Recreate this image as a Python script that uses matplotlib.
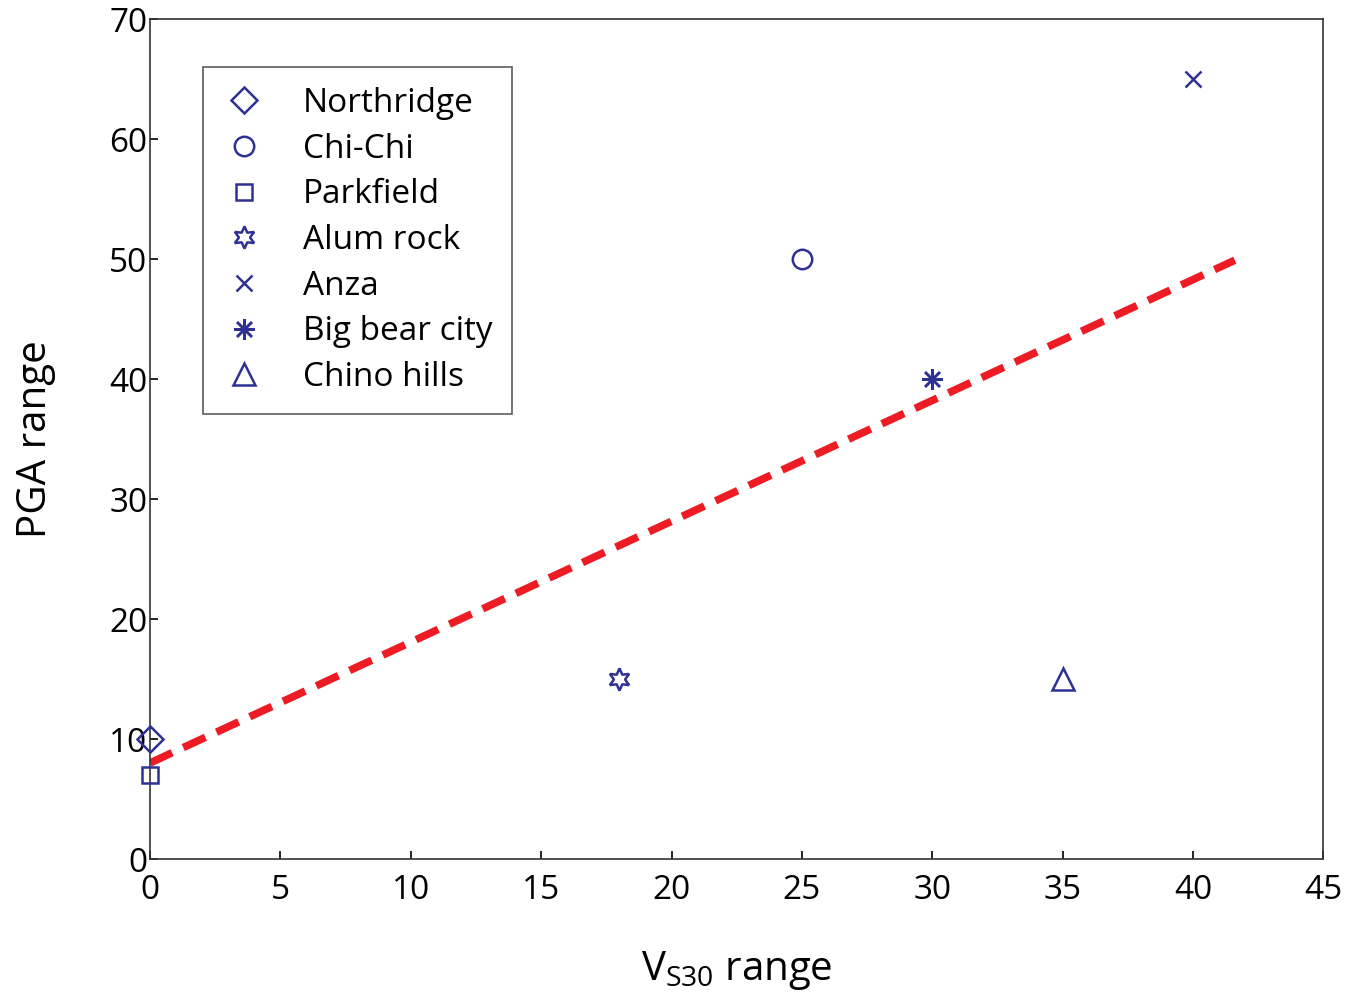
import matplotlib.pyplot as plt
from matplotlib.lines import Line2D

# data
events = ["Northridge", "Chi-Chi", "Parkfield", "Alum rock", "Anza", "Big bear city", "Chino hills"]
vs30 = [0, 25, 0, 18, 40, 30, 35]
pga = [10, 50, 7, 15, 65, 40, 15]
markers = ["D", "o", "s", (6, 1, 0), "x", (8, 2, 0), "^"]
msizes = [13, 14, 11, 16, 11, 15, 16]

# fitted trend line (endpoints)
fit_x = [0, 41.6]
fit_y = [8, 49.9]

plt.rcParams["font.family"] = ["Open Sans", "DejaVu Sans"]
blue = "#2E3192"

fig = plt.figure(figsize=(13.45, 10), dpi=100)
ax = fig.add_axes([0.1115, 0.141, 0.8725, 0.840])

for name, x, y, m, ms in zip(events, vs30, pga, markers, msizes):
    ax.plot(x, y, linestyle="none", marker=m, markersize=ms, mfc="none",
            mec=blue, mew=1.8, label=name, clip_on=False, zorder=3)

ax.plot(fit_x, fit_y, color="#ED1C24", linewidth=5.5, dashes=(3.2, 1.6), zorder=2)

ax.set_xlim(0, 45)
ax.set_ylim(0, 70)
ax.set_xticks(range(0, 46, 5))
ax.set_yticks(range(0, 71, 10))
ax.tick_params(direction="in", length=6, width=1.2, labelsize=24,
               top=False, right=False)
ax.tick_params(axis="x", pad=11)
ax.tick_params(axis="y", pad=2)
for s in ax.spines.values():
    s.set_linewidth(1.2)
    s.set_color("#333333")

ax.set_xlabel("V$_{\\mathregular{S30}}$ range", fontsize=29, labelpad=30)
ax.set_ylabel("PGA range", fontsize=29, labelpad=38)

handles = [Line2D([], [], linestyle="none", marker=m, markersize=ms, mfc="none",
                  mec=blue, mew=1.8) for m, ms in zip(markers, msizes)]
leg = ax.legend(handles, events, loc="upper left", bbox_to_anchor=(0.045, 0.943),
                fontsize=24, frameon=True, fancybox=False, borderpad=0.6,
                labelspacing=0.38, handlelength=1.3, handletextpad=1.1,
                borderaxespad=0)
leg.get_frame().set_edgecolor("#333333")
leg.get_frame().set_linewidth(1.2)

plt.savefig("out.png", dpi=100)
